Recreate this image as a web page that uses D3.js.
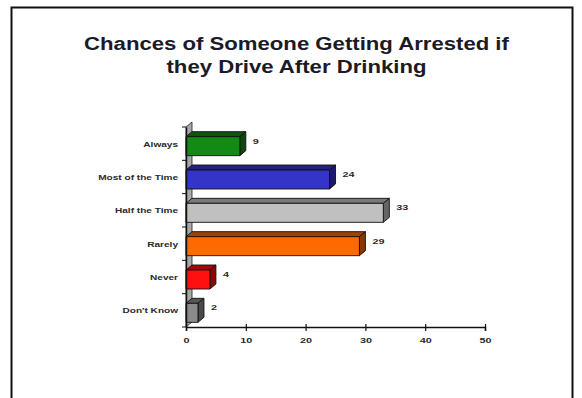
<!DOCTYPE html>
<html>
<head>
<meta charset="utf-8">
<script src="https://cdn.jsdelivr.net/npm/d3@7"></script>
<style>
html,body{margin:0;padding:0;background:#fff;}
svg{display:block;}
text{font-family:"Liberation Sans",Arial,sans-serif;}
</style>
</head>
<body>
<script>
// ---- data ----
const titleLines = ["Chances of Someone Getting Arrested if", "they Drive After Drinking"];
const categories = ["Always", "Most of the Time", "Half the Time", "Rarely", "Never", "Don't Know"];
const values = [9, 24, 33, 29, 4, 2];
const xTicks = [0, 10, 20, 30, 40, 50];
const barColors = ["#138a13", "#3434c8", "#c0c0c0", "#ff6a00", "#ff1010", "#8a8a8a"];

const W = 582, H = 398;
const svg = d3.select("body").append("svg").attr("width", W).attr("height", H);

// horizontal stretch helper (reference text is wide)
function stretch(sel, k) {
  sel.each(function () {
    const L = this.getComputedTextLength();
    d3.select(this).attr("textLength", L * k).attr("lengthAdjust", "spacingAndGlyphs");
  });
}

// frame
svg.append("rect").attr("x", 11.5).attr("y", 7.5).attr("width", 561).attr("height", 400)
  .attr("fill", "#fff").attr("stroke", "#111").attr("stroke-width", 2);

// title
const tt = svg.append("g").selectAll("text").data(titleLines).join("text")
  .attr("x", 296.5).attr("y", (d, i) => 50 + i * 23)
  .attr("text-anchor", "middle").attr("font-weight", "bold").attr("font-size", 18)
  .attr("fill", "#1a1a28").text(d => d);
stretch(tt, 1.23);

const x = d3.scaleLinear().domain([0, 50]).range([186, 485]);
const y = d3.scaleBand().domain(categories).range([127, 327]);
const dx = 6, dy = 5, bh = 19;

// wall (3D back strip)
svg.append("path")
  .attr("d", `M${x(0)},${y.range()[0]} L${x(0)+dx},${y.range()[0]-dy} L${x(0)+dx},${y.range()[1]-dy} L${x(0)},${y.range()[1]} Z`)
  .attr("fill", "#a8a8a8").attr("stroke", "#222").attr("stroke-width", 0.8);

// bars
const gBars = svg.append("g");
const valLabels = [];
categories.forEach((c, i) => {
  const v = values[i];
  const cy = y(c) + y.bandwidth() / 2;
  const top = cy - bh / 2 + dy / 2;
  const x0 = x(0), x1 = x(v);
  const col = d3.color(barColors[i]);
  const g = gBars.append("g").attr("stroke", "#111").attr("stroke-width", 0.9).attr("stroke-linejoin", "round");
  g.append("path").attr("d", `M${x0},${top} L${x0+dx},${top-dy} L${x1+dx},${top-dy} L${x1},${top} Z`)
    .attr("fill", col.darker(1.3));
  g.append("path").attr("d", `M${x1},${top} L${x1+dx},${top-dy} L${x1+dx},${top+bh-dy} L${x1},${top+bh} Z`)
    .attr("fill", col.darker(1.8));
  g.append("rect").attr("x", x0).attr("y", top).attr("width", x1 - x0).attr("height", bh)
    .attr("fill", col);
  svg.append("text").attr("class", "val").attr("x", x1 + dx + 7).attr("y", cy - 2).attr("dominant-baseline", "middle")
    .attr("font-size", 8).attr("font-weight", "bold").attr("fill", "#2a2a2a").text(v);
});
stretch(svg.selectAll("text.val"), 1.35);

// y axis
const yAxis = d3.axisLeft(y).tickSize(0).tickPadding(8);
const gy = svg.append("g").attr("transform", `translate(${x(0)},0)`).call(yAxis);
gy.select(".domain").attr("stroke", "#111").attr("stroke-width", 1.5);
gy.selectAll("text").attr("font-size", 7.2).attr("font-weight", "bold").attr("fill", "#2a2a2a")
  .attr("font-family", "Liberation Sans, Arial, sans-serif").attr("dy", "0.4em");
stretch(gy.selectAll("text"), 1.4);
svg.append("g").selectAll("line").data(d3.range(categories.length + 1)).join("line")
  .attr("x1", x(0) - 4).attr("x2", x(0))
  .attr("y1", i => y.range()[0] + i * y.step()).attr("y2", i => y.range()[0] + i * y.step())
  .attr("stroke", "#111").attr("stroke-width", 1);

// x axis
const xAxis = d3.axisBottom(x).tickValues(xTicks).tickSize(4).tickPadding(6);
const gx = svg.append("g").attr("transform", `translate(0,${y.range()[1]})`).call(xAxis);
gx.select(".domain").attr("stroke", "#111").attr("stroke-width", 1.5);
gx.selectAll(".tick line").attr("y1", -3).attr("stroke", "#111").attr("stroke-width", 1.2);
gx.selectAll("text").attr("font-size", 8).attr("font-weight", "bold").attr("fill", "#2a2a2a")
  .attr("font-family", "Liberation Sans, Arial, sans-serif");
stretch(gx.selectAll("text"), 1.35);
</script>
</body>
</html>
